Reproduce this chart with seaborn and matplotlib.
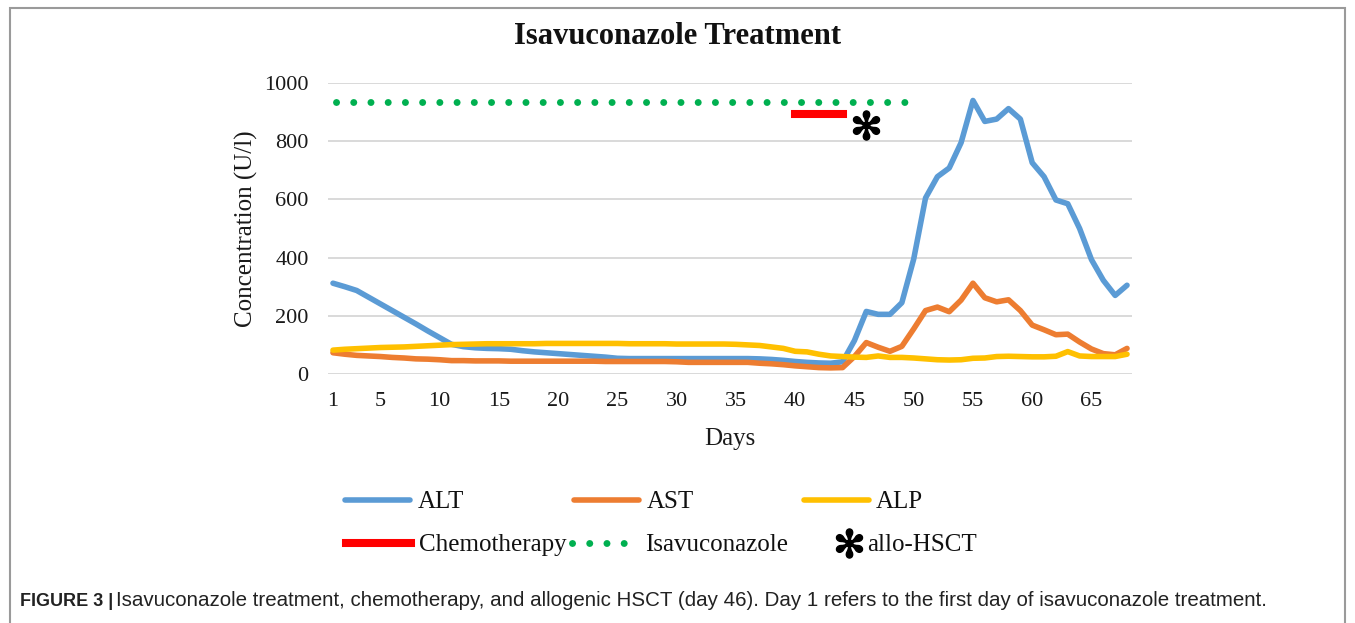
import numpy as np
import pandas as pd
import matplotlib
matplotlib.use("Agg")
import matplotlib.pyplot as plt
import seaborn as sns
from matplotlib.lines import Line2D
from matplotlib.patches import Rectangle
from matplotlib.legend_handler import HandlerBase

# ---------------- data ----------------
days = list(range(1, 69))
alt = [312, 300, 287, 264, 241, 218, 195, 172, 148, 125,
       102, 94, 90, 88, 87, 85, 80, 76, 73, 70,
       67, 64, 61, 58, 54, 53, 53, 53, 53, 53,
       53, 53, 53, 53, 53, 53, 52, 50, 47, 43,
       40, 38, 37, 42, 115, 215, 205, 205, 245, 395,
       605, 678, 708, 795, 940, 868, 876, 912, 876, 726,
       678, 598, 585, 500, 393, 322, 270, 305]
ast = [73, 68, 64, 62, 60, 57, 55, 52, 51, 49,
       46, 46, 45, 45, 45, 44, 44, 44, 44, 44,
       44, 44, 44, 43, 43, 43, 43, 43, 43, 42,
       40, 40, 40, 40, 40, 40, 37, 35, 32, 28,
       25, 22, 21, 22, 60, 108, 92, 78, 95, 155,
       218, 230, 214, 254, 312, 262, 248, 255, 218, 168,
       152, 135, 137, 110, 86, 70, 66, 88]
alp = [82, 85, 87, 89, 91, 92, 93, 95, 97, 99,
       101, 102, 103, 104, 104, 104, 104, 104, 105, 105,
       105, 105, 105, 105, 105, 104, 104, 104, 104, 103,
       103, 103, 103, 103, 102, 100, 98, 93, 88, 78,
       76, 68, 62, 60, 58, 57, 62, 57, 57, 55,
       52, 49, 48, 49, 54, 55, 60, 61, 60, 59,
       59, 61, 77, 62, 60, 60, 60, 68]
series_names = ["ALT", "AST", "ALP"]
series_colors = ["#5B9BD5", "#ED7D31", "#FFC000"]

chemo_days = [40, 44]
chemo_level = 892
isavu_days = [1.25, 49.5]
isavu_level = 935
hsct_days = [46]
hsct_levels = [857]

x_ticks = [1, 5, 10, 15, 20, 25, 30, 35, 40, 45, 50, 55, 60, 65]
y_ticks = [0, 200, 400, 600, 800, 1000]

title = "Isavuconazole Treatment"
x_label = "Days"
y_label = "Concentration (U/l)"
caption_head = "FIGURE 3 |"
caption_body = ("Isavuconazole treatment, chemotherapy, and allogenic HSCT (day 46). "
                "Day 1 refers to the first day of isavuconazole treatment.")

# ---------------- style ----------------
sns.set_theme(style="white")
plt.rcParams["font.family"] = ["Liberation Serif", "DejaVu Sans"]

W, H = 1355, 623
fig = plt.figure(figsize=(W / 100, H / 100), dpi=100)
fig.patch.set_facecolor("white")

ax = fig.add_axes([328 / W, 1 - 374 / H, (1132 - 328) / W, (374 - 83) / H])

df = pd.DataFrame({
    "Day": days * 3,
    "Value": alt + ast + alp,
    "Series": np.repeat(series_names, len(days)),
})
palette = dict(zip(series_names, series_colors))
sns.lineplot(data=df, x="Day", y="Value", hue="Series", hue_order=series_names,
             palette=palette, linewidth=4, legend=False, ax=ax,
             solid_capstyle="round", solid_joinstyle="round", zorder=3)

# Isavuconazole dotted line
dot_style = (0, (0.01, 2.47))
ax.plot(isavu_days, [isavu_level] * 2, color="#00B050", lw=5.0,
        linestyle=dot_style, dash_capstyle="round", zorder=4)
# chemotherapy bar
ax.plot(chemo_days, [chemo_level] * 2, color="#FF0000", lw=5.8,
        solid_capstyle="projecting", zorder=4)
# allo-HSCT marker
ax.plot(hsct_days, hsct_levels, linestyle="none", marker="$✻$",
        markersize=21, color="black", zorder=5)

ax.set_xlim(0.58, 68.42)
ax.set_ylim(0, 1000)
ax.set_xticks(x_ticks)
ax.set_yticks(y_ticks)
ax.set_xticklabels([str(t) for t in x_ticks])
ax.set_yticklabels([str(t) for t in y_ticks])
ax.tick_params(axis="both", length=0, labelsize=16, colors="#1a1a1a")
ax.tick_params(axis="y", pad=14)
ax.tick_params(axis="x", pad=13)
ax.yaxis.grid(True, color="#D9D9D9", lw=1.4)
ax.xaxis.grid(False)
ax.set_axisbelow(True)
for s in ax.spines.values():
    s.set_visible(False)
ax.set_xlabel(x_label, fontsize=18, color="#1a1a1a", labelpad=12)
ax.set_ylabel(y_label, fontsize=18, color="#1a1a1a", labelpad=4)

fig.text(0.5, 1 - 36 / H, title, ha="center", va="center",
         fontsize=22, fontweight="bold", color="#111111")


# ---------------- legend ----------------
class MarkerRightHandler(HandlerBase):
    def create_artists(self, legend, orig_handle, xdescent, ydescent,
                       width, height, fontsize, trans):
        ln = Line2D([-xdescent + width * 0.85], [-ydescent + height / 2],
                    linestyle="none", marker=orig_handle.get_marker(),
                    markersize=orig_handle.get_markersize(),
                    color=orig_handle.get_color(), transform=trans)
        return [ln]


h_alt = Line2D([], [], color=series_colors[0], lw=4, solid_capstyle="round")
h_ast = Line2D([], [], color=series_colors[1], lw=4, solid_capstyle="round")
h_alp = Line2D([], [], color=series_colors[2], lw=4, solid_capstyle="round")
h_chemo = Line2D([], [], color="#FF0000", lw=5.8, solid_capstyle="projecting")
h_isavu = Line2D([], [], color="#00B050", lw=5.0, linestyle=dot_style,
                 dash_capstyle="round")
h_hsct = Line2D([], [], linestyle="none", marker="$✻$", markersize=21,
                color="black")

leg_kw = dict(frameon=False, fontsize=18, handlelength=2.6, handletextpad=0.3,
              borderpad=0, borderaxespad=0, loc="center left")
leg1 = fig.legend([h_alt, h_ast, h_alp], series_names, ncol=3,
                  columnspacing=4.4, bbox_to_anchor=(345 / W, 1 - 502 / H), **leg_kw)
leg2 = fig.legend([h_chemo, h_isavu, h_hsct], ["Chemotherapy", "Isavuconazole", "allo-HSCT"],
                  ncol=3, columnspacing=0.25, bbox_to_anchor=(346 / W, 1 - 545 / H),
                  handler_map={h_hsct: MarkerRightHandler()}, **leg_kw)
for lg in (leg1, leg2):
    for t in lg.get_texts():
        t.set_color("#111111")

# ---------------- caption & frame ----------------
t_head = fig.text(20 / W, 1 - 601 / H, caption_head, ha="left", va="center",
                  fontsize=13, fontweight="bold", family="Liberation Sans",
                  color="#222222")
ax.annotate(caption_body, xy=(1, 0.5), xycoords=t_head, xytext=(2, 0),
            textcoords="offset points", ha="left", va="center",
            fontsize=14.8, family="Liberation Sans", color="#222222",
            annotation_clip=False)

fig.patches.append(Rectangle((10 / W, -0.02), 1335 / W, 1 - 8 / H + 0.02,
                             transform=fig.transFigure, fill=False,
                             edgecolor="#9a9a9a", lw=1.5))

fig.savefig("out.png", dpi=100)
